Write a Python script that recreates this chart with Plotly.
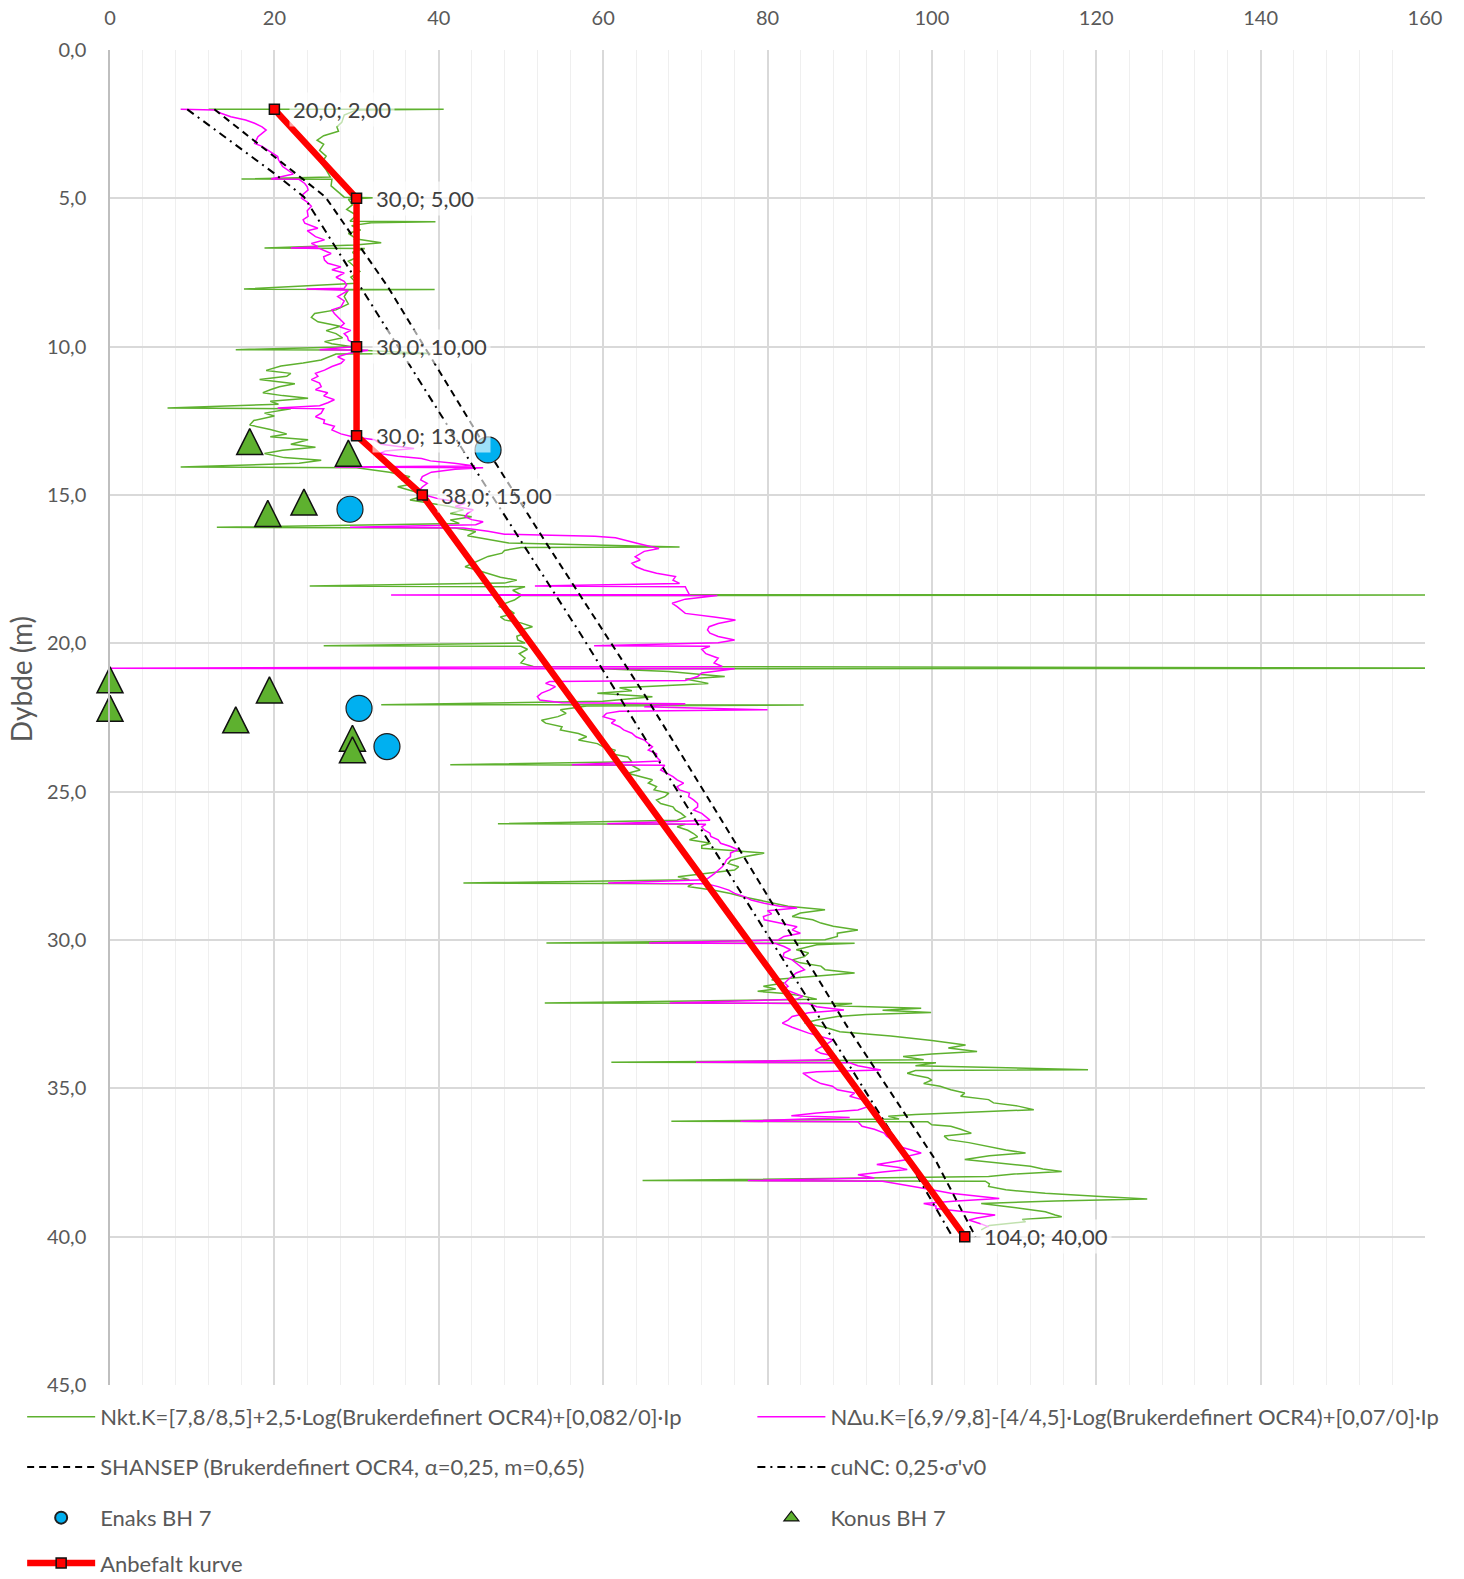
import plotly.graph_objects as go

# ---------------------------------------------------------------------------
# Undrained shear strength profiles, BH 7  (cu in kPa against depth in m)
# ---------------------------------------------------------------------------

# cu from cone resistance, Nkt
nkt_depth = [
    2.00, 2.00, 2.02, 2.19, 2.44, 2.59, 2.74, 2.89, 3.04, 3.18, 3.38, 3.58, 3.82, 4.04, 4.28, 4.35, 4.36,
    4.58, 4.78, 4.96, 4.98, 5.03, 5.22, 5.37, 5.57, 5.77, 5.79, 5.82, 5.92, 6.07, 6.18, 6.37, 6.50, 6.57,
    6.67, 6.69, 6.82, 6.97, 7.12, 7.27, 7.46, 7.66, 7.86, 8.06, 8.07, 8.09, 8.31, 8.56, 8.76, 8.88, 9.01,
    9.16, 9.31, 9.46, 9.56, 9.70, 9.83, 9.90, 10.00, 10.10, 10.11, 10.23, 10.25, 10.45, 10.55, 10.65, 10.80,
    10.90, 11.00, 11.11, 11.25, 11.35, 11.45, 11.55, 11.65, 11.74, 11.84, 11.94, 12.07, 12.09, 12.24, 12.34,
    12.49, 12.64, 12.79, 12.94, 13.04, 13.14, 13.29, 13.39, 13.49, 13.60, 13.74, 13.83, 13.93, 14.06, 14.08,
    14.23, 14.38, 14.49, 14.63, 14.72, 14.88, 15.00, 15.17, 15.28, 15.39, 15.50, 15.62, 15.73, 15.84, 15.96,
    16.09, 16.11, 16.23, 16.37, 16.52, 16.62, 16.75, 16.77, 16.87, 16.96, 17.07, 17.19, 17.32, 17.42, 17.52,
    17.64, 17.77, 17.87, 17.97, 18.07, 18.09, 18.21, 18.36, 18.37, 18.39, 18.54, 18.66, 18.76, 18.86, 18.99,
    19.11, 19.21, 19.31, 19.44, 19.55, 19.66, 19.76, 19.89, 19.99, 20.08, 20.10, 20.20, 20.35, 20.50, 20.66,
    20.78, 20.84, 20.86, 20.95, 21.05, 21.12, 21.20, 21.35, 21.45, 21.50, 21.60, 21.68, 21.80, 21.95, 22.07,
    22.08, 22.11, 22.24, 22.36, 22.47, 22.59, 22.69, 22.81, 22.92, 23.04, 23.15, 23.26, 23.38, 23.49, 23.60,
    23.72, 23.83, 23.99, 24.09, 24.11, 24.27, 24.38, 24.49, 24.60, 24.71, 24.83, 24.94, 25.05, 25.17, 25.28,
    25.40, 25.51, 25.62, 25.73, 25.85, 25.96, 26.08, 26.10, 26.18, 26.30, 26.41, 26.52, 26.62, 26.74, 26.82,
    26.91, 26.99, 27.07, 27.19, 27.32, 27.42, 27.53, 27.64, 27.77, 27.87, 27.97, 28.08, 28.10, 28.20, 28.32,
    28.43, 28.54, 28.64, 28.76, 28.86, 28.98, 29.09, 29.21, 29.32, 29.43, 29.54, 29.66, 29.77, 29.88, 29.99,
    30.10, 30.11, 30.16, 30.33, 30.44, 30.56, 30.67, 30.77, 30.88, 31.00, 31.11, 31.22, 31.34, 31.45, 31.56,
    31.65, 31.73, 31.81, 31.90, 32.00, 32.12, 32.14, 32.22, 32.30, 32.37, 32.44, 32.51, 32.58, 32.70, 32.80,
    32.94, 33.09, 33.24, 33.39, 33.54, 33.64, 33.76, 33.84, 33.93, 34.04, 34.12, 34.14, 34.24, 34.37, 34.40,
    34.49, 34.55, 34.64, 34.72, 34.84, 34.93, 35.05, 35.16, 35.27, 35.38, 35.49, 35.60, 35.72, 35.81, 35.88,
    35.94, 36.03, 36.11, 36.13, 36.23, 36.28, 36.38, 36.51, 36.61, 36.73, 36.83, 36.96, 37.08, 37.18, 37.27,
    37.40, 37.52, 37.63, 37.72, 37.80, 37.89, 37.97, 38.11, 38.13, 38.22, 38.31, 38.42, 38.54, 38.64, 38.73,
    38.80, 38.88, 39.02, 39.16, 39.27, 39.33, 39.42, 39.50, 39.62, 39.77,
]
nkt_cu = [
    12.0, 40.6, 30.0, 28.5, 28.2, 27.6, 27.8, 26.0, 25.2, 26.0, 25.5, 26.3, 25.7, 26.3, 26.8, 16.0, 27.0,
    26.9, 27.8, 28.5, 32.0, 29.0, 29.5, 28.8, 30.0, 29.2, 39.6, 31.8, 29.4, 30.5, 29.0, 30.0, 33.0, 29.8,
    18.8, 31.0, 29.5, 30.2, 29.0, 29.6, 30.4, 29.3, 30.0, 16.3, 39.5, 29.0, 28.5, 29.0, 27.5, 24.9, 24.5,
    25.3, 28.0, 26.3, 27.5, 28.3, 26.1, 27.0, 29.5, 15.3, 30.0, 39.0, 27.5, 25.7, 23.5, 20.8, 19.0,
    22.0, 21.5, 18.2, 22.5, 20.6, 19.5, 18.6, 21.0, 24.1, 19.5, 20.5, 7.0, 22.0, 18.8, 20.0,
    17.5, 17.0, 19.5, 21.5, 19.5, 24.1, 22.0, 25.0, 21.0, 18.8, 21.2, 25.7, 23.0, 8.6, 30.0,
    34.0, 36.5, 35.5, 36.8, 35.0, 37.0, 38.5, 36.5, 39.0, 41.4, 43.0, 41.4, 44.0, 41.4, 42.5,
    13.0, 42.0, 44.5, 43.5, 46.3, 48.5, 69.3, 50.0, 48.0, 47.7, 46.0, 45.0, 44.0, 43.2, 44.5,
    45.9, 47.5, 49.5, 48.0, 24.3, 50.5, 49.0, 50.0, 180.0, 50.0, 49.2, 48.0, 47.3, 48.5, 49.2,
    47.5, 48.0, 50.0, 51.4, 50.0, 50.5, 49.5, 49.6, 50.5, 26.0, 50.0, 50.8, 49.8, 50.5, 50.0,
    51.5, 180.0, 60.0, 68.0, 72.0, 74.8, 70.0, 72.8, 66.0, 62.0, 63.5, 59.3, 66.0, 60.0, 33.0,
    84.4, 58.0, 54.8, 55.5, 54.5, 52.5, 53.0, 55.0, 54.8, 57.0, 58.0, 57.0, 59.3, 60.0, 61.5,
    61.0, 63.0, 63.5, 41.4, 63.5, 64.5, 63.0, 64.5, 66.0, 65.5, 66.5, 66.2, 68.0, 67.5, 66.5,
    67.0, 68.5, 68.8, 69.5, 70.0, 69.0, 47.2, 70.0, 69.0, 70.3, 71.0, 71.5, 70.5, 73.1, 72.0,
    72.0, 76.0, 79.6, 77.2, 75.5, 75.2, 76.5, 76.0, 72.0, 69.1, 70.5, 43.0, 71.0, 70.3, 73.5,
    75.5, 77.0, 78.8, 81.0, 82.5, 87.0, 84.0, 83.0, 85.5, 86.5, 88.0, 91.0, 88.5, 88.5, 87.0,
    53.1, 90.6, 86.0, 83.5, 85.0, 84.5, 83.0, 84.0, 86.5, 87.0, 90.6, 86.0, 80.5, 82.0, 79.5,
    81.0, 78.8, 82.5, 84.5, 86.0, 52.9, 90.3, 88.0, 98.7, 94.0, 99.9, 92.0, 88.5, 86.0, 84.5,
    87.0, 88.8, 95.0, 100.0, 104.1, 102.0, 105.5, 100.0, 96.5, 99.0, 61.0, 100.5, 98.0, 119.0, 98.0,
    97.0, 97.8, 99.5, 100.0, 99.0, 101.0, 102.3, 104.0, 103.5, 106.9, 107.5, 110.5, 112.4, 104.0, 98.0,
    94.7, 96.0, 68.3, 99.5, 100.0, 102.3, 103.5, 104.8, 101.5, 102.0, 104.5, 106.9, 109.0, 111.4, 107.0,
    104.0, 108.0, 112.0, 113.5, 115.8, 110.0, 106.9, 64.8, 106.5, 107.0, 106.9, 109.0, 113.8, 120.0, 126.2,
    115.0, 106.0, 110.0, 113.8, 115.0, 115.8, 111.0, 111.4, 107.0, 106.0,
]

# cu from excess pore pressure, NΔu
ndu_depth = [
    2.00, 2.02, 2.13, 2.25, 2.36, 2.47, 2.59, 2.70, 2.81, 2.92, 3.04, 3.15, 3.25, 3.37, 3.48, 3.59, 3.70,
    3.82, 3.93, 4.04, 4.18, 4.35, 4.36, 4.50, 4.61, 4.72, 4.86, 5.00, 5.13, 5.27, 5.42, 5.61, 5.72, 5.84,
    6.01, 6.09, 6.18, 6.29, 6.40, 6.52, 6.63, 6.67, 6.69, 6.86, 6.97, 7.08, 7.19, 7.31, 7.41, 7.52, 7.66,
    7.80, 7.91, 8.03, 8.06, 8.10, 8.31, 8.46, 8.66, 8.76, 8.88, 9.06, 9.22, 9.34, 9.45, 9.56, 9.67, 9.78,
    9.89, 10.00, 10.10, 10.12, 10.23, 10.34, 10.45, 10.56, 10.67, 10.79, 10.90, 11.00, 11.11, 11.23, 11.35,
    11.45, 11.55, 11.66, 11.79, 11.89, 11.99, 12.07, 12.09, 12.24, 12.36, 12.47, 12.58, 12.68, 12.81, 12.94,
    13.04, 13.14, 13.29, 13.43, 13.52, 13.60, 13.69, 13.77, 13.85, 13.93, 14.02, 14.06, 14.08, 14.13, 14.23,
    14.38, 14.49, 14.61, 14.73, 14.88, 15.00, 15.13, 15.28, 15.39, 15.50, 15.62, 15.73, 15.83, 15.90, 16.00,
    16.09, 16.11, 16.22, 16.32, 16.39, 16.44, 16.52, 16.62, 16.72, 16.80, 16.90, 16.99, 17.08, 17.19, 17.30,
    17.42, 17.53, 17.64, 17.75, 17.87, 17.98, 18.07, 18.09, 18.21, 18.36, 18.37, 18.39, 18.51, 18.65, 18.76,
    18.87, 18.99, 19.11, 19.21, 19.33, 19.44, 19.55, 19.66, 19.77, 19.89, 19.98, 20.08, 20.10, 20.20, 20.35,
    20.50, 20.66, 20.78, 20.84, 20.86, 21.00, 21.12, 21.25, 21.29, 21.35, 21.46, 21.57, 21.68, 21.80, 21.91,
    22.00, 22.04, 22.14, 22.24, 22.29, 22.36, 22.47, 22.59, 22.69, 22.81, 22.92, 23.03, 23.15, 23.26, 23.38,
    23.49, 23.60, 23.72, 23.83, 23.97, 24.09, 24.11, 24.27, 24.39, 24.49, 24.60, 24.71, 24.83, 24.94, 25.05,
    25.17, 25.28, 25.40, 25.51, 25.62, 25.73, 25.85, 25.96, 26.08, 26.10, 26.19, 26.29, 26.40, 26.51, 26.62,
    26.74, 26.85, 26.96, 27.07, 27.19, 27.30, 27.42, 27.53, 27.64, 27.77, 27.87, 27.97, 28.08, 28.10, 28.20,
    28.32, 28.43, 28.54, 28.65, 28.76, 28.86, 28.92, 29.01, 29.12, 29.21, 29.32, 29.43, 29.55, 29.66, 29.77,
    29.88, 30.00, 30.10, 30.12, 30.22, 30.33, 30.44, 30.56, 30.67, 30.77, 30.88, 31.00, 31.11, 31.22, 31.34,
    31.45, 31.56, 31.65, 31.75, 31.90, 32.00, 32.12, 32.14, 32.25, 32.36, 32.45, 32.58, 32.70, 32.80, 32.94,
    33.14, 33.37, 33.54, 33.71, 33.82, 33.93, 34.04, 34.12, 34.14, 34.24, 34.38, 34.44, 34.49, 34.61, 34.72,
    34.84, 34.93, 35.05, 35.16, 35.27, 35.38, 35.49, 35.60, 35.73, 35.83, 35.92, 35.98, 36.11, 36.13, 36.28,
    36.38, 36.51, 36.61, 36.73, 36.83, 36.96, 37.08, 37.18, 37.29, 37.40, 37.49, 37.57, 37.67, 37.74, 37.82,
    37.91, 38.02, 38.11, 38.13, 38.22, 38.31, 38.42, 38.54, 38.62, 38.71, 38.80, 38.88, 38.97, 39.05, 39.16,
    39.27, 39.37, 39.44, 39.57, 39.67,
]
ndu_cu = [
    8.6, 12.7, 13.5, 14.7, 16.5, 17.6, 18.5, 19.0, 18.5, 18.0, 17.8, 17.6, 18.5, 19.2, 19.8, 20.4, 20.5,
    20.8, 21.0, 21.6, 22.3, 19.6, 23.0, 23.7, 24.0, 24.1, 23.5, 23.3, 24.0, 24.5, 24.0, 24.1, 23.5, 23.7,
    25.3, 24.0, 24.5, 25.0, 26.1, 24.5, 25.3, 22.0, 25.5, 26.9, 26.0, 26.1, 26.5, 28.1, 27.0, 28.5, 27.5,
    28.5, 28.8, 28.5, 23.9, 29.0, 27.7, 28.5, 28.1, 27.0, 27.3, 28.0, 28.5, 28.0, 29.3, 28.5, 28.9, 29.0,
    29.7, 29.5, 25.5, 31.4, 29.0, 27.7, 28.5, 28.1, 27.0, 26.1, 25.0, 25.3, 24.5, 25.5, 25.7,
    25.0, 26.5, 26.0, 27.3, 26.5, 25.5, 20.4, 26.0, 25.7, 25.0, 26.1, 26.0, 27.3, 27.0, 28.1,
    29.5, 32.2, 33.0, 37.0, 33.5, 32.8, 35.0, 37.9, 39.0, 41.9, 44.4, 27.4, 45.4, 42.0, 39.1,
    38.0, 37.8, 38.6, 38.0, 37.5, 38.3, 40.0, 43.2, 42.0, 44.2, 43.5, 43.2, 44.0, 45.4, 44.5,
    29.2, 43.0, 46.0, 48.0, 59.0, 61.5, 62.5, 64.0, 65.5, 66.8, 65.0, 64.5, 63.9, 64.5, 63.5,
    64.0, 65.0, 66.5, 68.8, 68.5, 69.3, 51.7, 70.0, 70.2, 70.5, 34.2, 73.9, 70.0, 68.4, 69.0,
    69.5, 70.0, 73.5, 76.1, 74.0, 72.9, 72.7, 73.0, 74.0, 76.0, 74.0, 58.9, 73.0, 72.0, 72.5,
    74.0, 73.5, 74.5, 0.0, 76.0, 72.0, 71.5, 70.0, 53.5, 53.0, 54.2, 53.5, 52.5, 52.0, 52.3,
    55.0, 70.0, 65.0, 80.0, 62.0, 60.4, 60.0, 61.5, 61.0, 62.0, 62.5, 63.5, 64.0, 65.0, 65.5,
    66.0, 65.5, 66.5, 66.5, 67.0, 56.2, 67.5, 67.0, 67.8, 68.5, 69.0, 69.8, 69.0, 69.3, 70.5,
    70.4, 71.0, 71.5, 71.5, 71.0, 72.0, 72.5, 73.0, 60.5, 72.5, 72.0, 72.3, 73.0, 73.1, 74.0,
    74.3, 75.5, 76.4, 75.5, 75.5, 75.0, 74.8, 74.5, 74.1, 73.5, 73.0, 72.5, 60.6, 72.5, 74.0,
    75.3, 76.0, 77.2, 78.0, 79.6, 81.5, 83.6, 80.0, 80.5, 79.5, 79.6, 81.5, 83.6, 83.0, 84.0,
    82.0, 81.3, 65.6, 81.0, 82.0, 82.8, 82.0, 81.9, 83.0, 83.5, 84.0, 84.5, 83.5, 83.0, 82.5,
    82.1, 82.5, 82.0, 83.0, 84.3, 83.5, 68.1, 85.0, 86.0, 89.3, 85.0, 83.0, 82.5, 81.8, 83.0,
    85.0, 88.0, 87.0, 85.8, 86.5, 88.4, 87.0, 71.3, 90.0, 91.0, 93.8, 86.0, 84.3, 85.0, 85.6,
    86.5, 87.9, 88.5, 90.6, 90.0, 91.5, 92.0, 92.4, 91.0, 86.0, 82.9, 90.0, 76.7, 91.0, 91.5,
    93.0, 94.2, 94.5, 95.1, 95.5, 96.0, 97.5, 98.7, 97.0, 97.0, 95.0, 93.3, 96.0, 97.0, 94.0,
    91.0, 93.0, 77.6, 94.0, 96.0, 97.8, 100.0, 102.3, 105.0, 108.2, 103.0, 99.0, 100.5, 100.5, 104.0,
    107.7, 105.5, 104.5, 106.0, 106.9,
]

# SHANSEP and normally consolidated reference lines
shansep_depth = [2.00, 4.95, 7.98, 13.70, 16.63, 21.80, 26.18, 29.77, 32.92, 37.40, 40.00]
shansep_cu = [12.7, 26.2, 33.8, 46.4, 53.1, 65.2, 74.9, 82.8, 89.7, 100.4, 105.3]
cunc_depth = [2.00, 4.16, 4.95, 14.04, 19.66, 26.08, 31.45, 37.18, 40.00]
cunc_cu = [9.4, 20.0, 23.6, 44.2, 57.2, 71.5, 83.7, 96.6, 102.5]

# Laboratory tests (unconfined compression and fall cone)
enaks_depth = [13.48, 15.48, 22.19, 23.48]
enaks_cu = [46.0, 29.2, 30.3, 33.7]
konus_depth = [13.20, 13.59, 15.24, 15.62, 21.23, 22.19, 21.57, 22.58, 23.20, 23.59]
konus_cu = [17.0, 29.0, 23.6, 19.2, 0.0, 0.0, 19.4, 15.3, 29.5, 29.5]

# Recommended design profile
anbefalt_depth = [2.0, 5.0, 10.0, 13.0, 15.0, 40.0]
anbefalt_cu = [20.0, 30.0, 30.0, 30.0, 38.0, 104.0]

# x ticks and depth ticks
x_ticks = [0, 20, 40, 60, 80, 100, 120, 140, 160]
depth_ticks = [0, 5, 10, 15, 20, 25, 30, 35, 40, 45]

FONT = "Lato"
GREY = "#595959"
GREEN = "#5EB12F"
MAGENTA = "#FF00FF"
BLUE = "#00B0F0"
RED = "#FF0000"
TRI = 26  # fall-cone marker size (isosceles triangle, width = height)

fig = go.Figure()

fig.add_trace(go.Scatter(
    x=nkt_cu, y=nkt_depth, mode="lines", legend="legend",
    name="Nkt.K=[7,8/8,5]+2,5·Log(Brukerdefinert OCR4)+[0,082/0]·Ip",
    line=dict(color=GREEN, width=1.5),
))
fig.add_trace(go.Scatter(
    x=ndu_cu, y=ndu_depth, mode="lines", legend="legend2",
    name="NΔu.K=[6,9/9,8]-[4/4,5]·Log(Brukerdefinert OCR4)+[0,07/0]·Ip",
    line=dict(color=MAGENTA, width=1.5),
))
fig.add_trace(go.Scatter(
    x=shansep_cu, y=shansep_depth, mode="lines", legend="legend3",
    name="SHANSEP (Brukerdefinert OCR4, α=0,25, m=0,65)",
    line=dict(color="black", width=2, dash="7px,5px"),
))
fig.add_trace(go.Scatter(
    x=cunc_cu, y=cunc_depth, mode="lines", legend="legend4",
    name="cuNC: 0,25·σ'v0",
    line=dict(color="black", width=2, dash="8px,5px,2px,5px"),
))
fig.add_trace(go.Scatter(
    x=enaks_cu, y=enaks_depth, mode="markers", legend="legend5",
    name="Enaks BH 7",
    marker=dict(symbol="circle", size=26, color=BLUE, line=dict(color="#1F1F1F", width=1.2)),
))
# fall-cone points: an upright isosceles triangle centred on each point
fig.add_trace(go.Scatter(
    x=konus_cu, y=konus_depth, mode="markers", legend="legend6",
    name="Konus BH 7", legendgroup="konus", showlegend=False,
    marker=dict(symbol="arrow-down", angle=180, standoff=TRI / 2, size=TRI, color=GREEN,
                line=dict(color="#111111", width=1.5)),
    cliponaxis=False,
))
# legend key for the fall-cone series
fig.add_trace(go.Scatter(
    x=[None], y=[None], mode="markers", legend="legend6",
    name="Konus BH 7", legendgroup="konus", showlegend=True,
    marker=dict(symbol="triangle-up", size=13, color=GREEN,
                line=dict(color="#111111", width=1.2)),
))
fig.add_trace(go.Scatter(
    x=anbefalt_cu, y=anbefalt_depth, mode="lines+markers", legend="legend7",
    name="Anbefalt kurve",
    line=dict(color=RED, width=6.5),
    marker=dict(symbol="square", size=10, color=RED, line=dict(color="#111111", width=1.5)),
))

# point labels on the recommended profile
for cu, z in zip(anbefalt_cu, anbefalt_depth):
    fig.add_annotation(
        x=cu, y=z, xref="x", yref="y",
        text=f"{cu:.1f}; {z:.2f}".replace(".", ","),
        showarrow=False, xanchor="left", yanchor="middle", xshift=15,
        font=dict(family=FONT, size=22, color="#404040"),
        bgcolor="rgba(255,255,255,0.62)", borderpad=3,
    )

# depth axis title
fig.add_annotation(
    x=-0.0676, y=0.5288, xref="paper", yref="paper", text="Dybde (m)",
    showarrow=False, textangle=-90, xanchor="center", yanchor="middle",
    font=dict(family=FONT, size=28, color=GREY),
)


def legend_box(x, y, sizing="trace"):
    return dict(
        x=x, y=y, xref="paper", yref="paper", xanchor="left", yanchor="middle",
        orientation="v", bgcolor="rgba(0,0,0,0)", borderwidth=0,
        font=dict(family=FONT, size=22, color=GREY),
        itemwidth=68, itemsizing=sizing,
    )


col1, col2 = -0.0668, 0.4885
row = [-0.024, -0.0615, -0.0995, -0.1335]

fig.update_layout(
    width=1464, height=1579,
    margin=dict(l=110, r=39, t=50, b=194, autoexpand=False),
    paper_bgcolor="white", plot_bgcolor="white",
    separators=", ",
    font=dict(family=FONT, color=GREY),
    showlegend=True,
    legend=legend_box(col1, row[0]),
    legend2=legend_box(col2, row[0]),
    legend3=legend_box(col1, row[1]),
    legend4=legend_box(col2, row[1]),
    legend5=legend_box(col1, row[2], "constant"),
    legend6=legend_box(col2, row[2]),
    legend7=legend_box(col1, row[3]),
    xaxis=dict(
        range=[0, 160], side="top", tickvals=x_ticks,
        showgrid=True, gridcolor="#D9D9D9", gridwidth=1.5,
        minor=dict(dtick=4, tick0=0, showgrid=True, gridcolor="#EFEFEF", gridwidth=1),
        zeroline=False, showline=False, ticks="",
        tickfont=dict(family=FONT, size=20, color=GREY),
        ticklabelstandoff=20,
    ),
    # bottom frame line with small inside tick marks every 4 units
    xaxis2=dict(
        range=[0, 160], overlaying="x", anchor="y", side="bottom",
        showgrid=False, zeroline=False, showticklabels=False,
        showline=True, linecolor="#BFBFBF", linewidth=1.5,
        ticks="inside", ticklen=5, tickwidth=1, tickcolor="#BFBFBF",
        tick0=0, dtick=4,
    ),
    yaxis=dict(
        range=[45, 0], tickvals=depth_ticks, tickformat=".1f",
        showgrid=True, gridcolor="#D9D9D9", gridwidth=1.5,
        zeroline=False, showline=True, linecolor="#BFBFBF", linewidth=1.5,
        ticks="", tickfont=dict(family=FONT, size=20, color=GREY),
        ticklabelstandoff=18,
    ),
)

fig.write_html("out.html")
